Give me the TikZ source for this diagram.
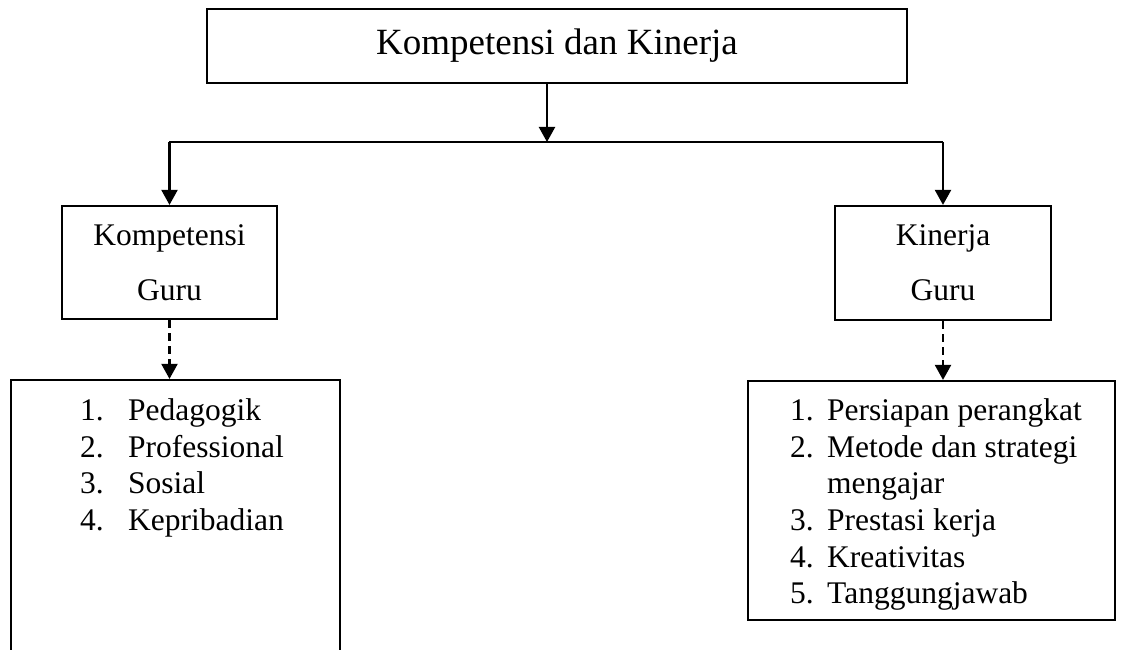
\documentclass[tikz,border=0pt]{standalone}
\usepackage{fontspec}
\setmainfont{Liberation Serif}
\usetikzlibrary{arrows.meta}
\usetikzlibrary{backgrounds,positioning,calc}
\pgfdeclarelayer{edgelayer}
\pgfdeclarelayer{nodelayer}
\pgfsetlayers{background,edgelayer,nodelayer,main}
\tikzstyle{none}=[inner sep=0mm]
\tikzstyle{box}=[draw=black,line width=2.2pt,shape=rectangle,inner sep=0mm,minimum width=0pt,minimum height=0pt]
\tikzstyle{title}=[font=\fontsize{37}{44}\selectfont]
\tikzstyle{txt}=[none,font=\fontsize{31.5}{36}\selectfont]
\tikzstyle{line}=[line width=2.2pt]
\tikzstyle{arr}=[line,-{Triangle[width=16pt,length=15pt]}]
\tikzstyle{darr}=[arr,dash pattern=on 8pt off 5pt]

\begin{document}
\begin{tikzpicture}[x=1pt,y=-1pt]
	\useasboundingbox (0, 0) rectangle (1130, 650);
	\begin{pgfonlayer}{nodelayer}
		\node [style=box, style=title, minimum width=700pt, minimum height=74pt] (kk) at (557, 46) {Kompetensi dan Kinerja};
		\node [style=box, style=txt, align=center, minimum width=215pt, minimum height=113pt] (kg) at (169.5, 262.5) {Kompetensi\\[19pt]Guru};
		\node [style=box, style=txt, align=center, minimum width=216pt, minimum height=114pt] (kn) at (943, 263) {Kinerja\\[19pt]Guru};
		\node [style=box, minimum width=329pt, minimum height=320pt] (lk) at (175.5, 540) {};
		\node [style=box, minimum width=367pt, minimum height=239pt] (lr) at (931.5, 500.5) {};
		% kompetensi list
		\node [style=txt, anchor=base west] (k1n) at (80, 420) {1.};
		\node [style=txt, anchor=base west] (k1) at (128, 420) {Pedagogik};
		\node [style=txt, anchor=base west] (k2n) at (80, 457) {2.};
		\node [style=txt, anchor=base west] (k2) at (128, 457) {Professional};
		\node [style=txt, anchor=base west] (k3n) at (80, 493) {3.};
		\node [style=txt, anchor=base west] (k3) at (128, 493) {Sosial};
		\node [style=txt, anchor=base west] (k4n) at (80, 530) {4.};
		\node [style=txt, anchor=base west] (k4) at (128, 530) {Kepribadian};
		% kinerja list
		\node [style=txt, anchor=base west] (r1n) at (790, 420) {1.};
		\node [style=txt, anchor=base west] (r1) at (827, 420) {Persiapan perangkat};
		\node [style=txt, anchor=base west] (r2n) at (790, 457) {2.};
		\node [style=txt, anchor=base west] (r2) at (827, 457) {Metode dan strategi};
		\node [style=txt, anchor=base west] (r2b) at (827, 493) {mengajar};
		\node [style=txt, anchor=base west] (r3n) at (790, 530) {3.};
		\node [style=txt, anchor=base west] (r3) at (827, 530) {Prestasi kerja};
		\node [style=txt, anchor=base west] (r4n) at (790, 567) {4.};
		\node [style=txt, anchor=base west] (r4) at (827, 567) {Kreativitas};
		\node [style=txt, anchor=base west] (r5n) at (790, 603) {5.};
		\node [style=txt, anchor=base west] (r5) at (827, 603) {Tanggungjawab};
		\coordinate (sp) at (547, 142);
		\coordinate (hl) at (169, 142);
		\coordinate (hr) at (943, 142);
	\end{pgfonlayer}
	\begin{pgfonlayer}{edgelayer}
		\draw [style=arr] (kk.south -| sp) to (sp);
		\draw [style=line] (hl) to (hr);
		\draw [style=arr] (kg.north |- hl) to (kg.north);
		\draw [style=arr] (kn.north |- hr) to (kn.north);
		\draw [style=darr] (kg.south) to (kg.south |- lk.north);
		\draw [style=darr] (kn.south) to (kn.south |- lr.north);
	\end{pgfonlayer}
\end{tikzpicture}
\end{document}
